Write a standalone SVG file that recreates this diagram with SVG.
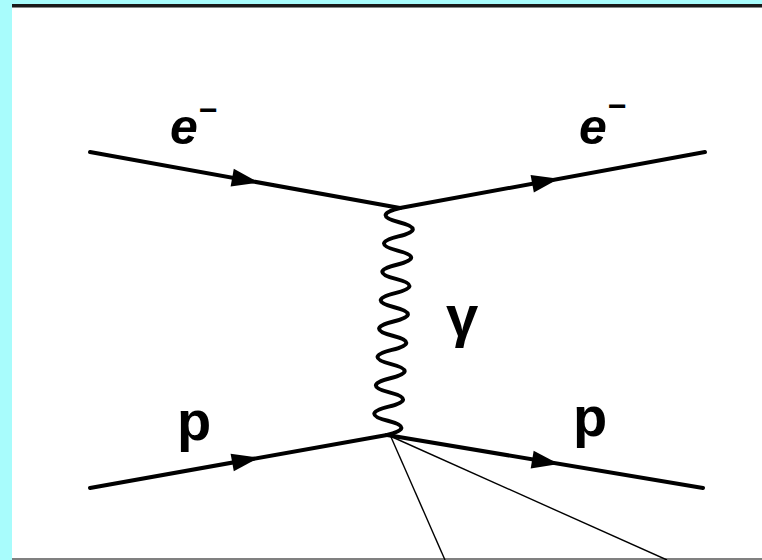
<svg xmlns="http://www.w3.org/2000/svg" width="762" height="560" viewBox="0 0 762 560">
<style>
.fer{stroke:#000;stroke-width:4;fill:none;stroke-linecap:round}
.thin{stroke:#000;stroke-width:1.4;fill:none}
.arr{fill:#000}
.lbl{font-family:"Liberation Sans","DejaVu Sans",sans-serif;fill:#000;font-weight:bold}
</style>
<defs>
<polygon id="ah" points="-13,-9 14,0 -13,9"/>
</defs>
<rect x="0" y="0" width="762" height="560" fill="#A8FCFC"/>
<rect x="12" y="4" width="750" height="556" fill="#FFFFFF"/>
<rect x="12" y="4" width="750" height="3" fill="#1a1a1a"/>
<rect x="12" y="7" width="750" height="1" fill="#888"/>
<rect x="12" y="558" width="750" height="2" fill="#808080"/>
<g id="connectors">
<path class="fer" d="M90,152 L400,208"/>
<path class="fer" d="M400,208 L705,152"/>
<path class="fer" d="M90,488 L387,435"/>
<path class="fer" d="M387,435 L703,488"/>
<path class="fer" stroke-linejoin="round" d="M400,208 Q371.6,215.1 399.2,222.2 Q426.8,229.3 398.4,236.4 Q370,243.5 397.6,250.6 Q425.2,257.7 396.75,264.8 Q368.3,271.8 395.9,278.9 Q423.5,286 395.1,293.1 Q366.7,300.2 394.3,307.3 Q421.9,314.4 393.5,321.5 Q365.1,328.6 392.7,335.7 Q420.3,342.8 391.9,349.9 Q363.5,357 391.1,364.1 Q418.7,371.2 390.25,378.3 Q361.9,385.4 389.4,392.4 Q417.1,399.6 388.6,406.6 Q360.3,413.8 387.8,420.8 Q415.4,428 387,435"/>
<path class="thin" d="M391,437 L445,560"/>
<path class="thin" d="M390,436 L667,560"/>
<use href="#ah" class="arr" transform="translate(245,180) rotate(10.2)"/>
<use href="#ah" class="arr" transform="translate(545,181.4) rotate(-10.4)"/>
<use href="#ah" class="arr" transform="translate(245,460.2) rotate(-10.2)"/>
<use href="#ah" class="arr" transform="translate(545,461.7) rotate(9.5)"/>
</g>
<g id="e-in-label">
<text class="lbl" x="170" y="144" font-size="50" font-style="italic">e</text>
<text class="lbl" x="199" y="121" font-size="32">−</text>
</g>
<g id="e-out-label">
<text class="lbl" x="579" y="144" font-size="50" font-style="italic">e</text>
<text class="lbl" x="608" y="117" font-size="32">−</text>
</g>
<g id="gamma-label">
<text class="lbl" x="446" y="336" font-size="58">γ</text>
</g>
<g id="p-in-label">
<text class="lbl" x="177" y="440" font-size="56">p</text>
</g>
<g id="p-out-label">
<text class="lbl" x="573" y="436" font-size="56">p</text>
</g>
</svg>
